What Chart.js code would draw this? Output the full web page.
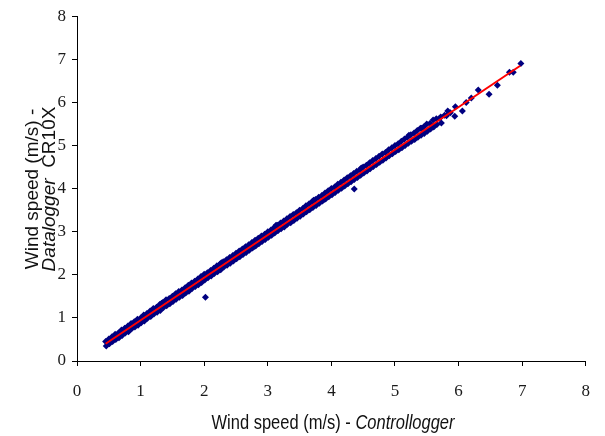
<!DOCTYPE html>
<html lang="en">
<head>
    <meta charset="UTF-8">
    <title>Wind speed comparison</title>
    <script src="https://cdn.jsdelivr.net/npm/chart.js"></script>
    <style>
        html, body { margin: 0; padding: 0; background: #fff; }
        #wrap { width: 605px; height: 436px; }
    </style>
</head>
<body>
    <div id="wrap"><canvas id="windChart" width="605" height="436"></canvas></div>
    <script>
        // axis range / ticks
        const axisMin = 0;
        const axisMax = 8;

        // [controllogger, datalogger CR10X] in m/s
        const readings = [
            [0.45,0.45],[0.46,0.35],[0.50,0.51],[0.51,0.40],[0.55,0.56],[0.56,0.45],[0.60,0.62],[0.61,0.50],
            [0.65,0.65],[0.66,0.54],[0.70,0.72],[0.71,0.59],[0.75,0.76],[0.76,0.65],[0.80,0.81],[0.81,0.68],
            [0.85,0.87],[0.86,0.75],[0.90,0.91],[0.91,0.79],[0.95,0.97],[0.96,0.83],[1.00,1.00],[1.01,0.89],
            [1.05,1.07],[1.06,0.93],[1.10,1.10],[1.11,0.99],[1.15,1.16],[1.16,1.03],[1.20,1.22],[1.21,1.09],
            [1.25,1.25],[1.26,1.13],[1.30,1.31],[1.31,1.17],[1.35,1.36],[1.36,1.24],[1.40,1.42],[1.41,1.28],
            [1.45,1.45],[1.46,1.33],[1.50,1.50],[1.51,1.38],[1.55,1.56],[1.56,1.43],[1.60,1.61],[1.61,1.48],
            [1.65,1.65],[1.66,1.52],[1.70,1.70],[1.71,1.58],[1.75,1.76],[1.76,1.62],[1.80,1.81],[1.81,1.68],
            [1.85,1.85],[1.86,1.73],[1.90,1.90],[1.91,1.77],[1.95,1.96],[1.96,1.82],[2.00,2.01],[2.01,1.88],
            [2.05,2.05],[2.06,1.93],[2.10,2.10],[2.11,1.97],[2.15,2.15],[2.16,2.03],[2.20,2.21],[2.21,2.07],
            [2.25,2.25],[2.26,2.12],[2.30,2.30],[2.31,2.18],[2.35,2.35],[2.36,2.22],[2.40,2.40],[2.41,2.27],
            [2.45,2.45],[2.46,2.32],[2.50,2.50],[2.51,2.37],[2.55,2.55],[2.56,2.42],[2.60,2.60],[2.61,2.47],
            [2.65,2.65],[2.66,2.52],[2.70,2.70],[2.71,2.57],[2.75,2.75],[2.76,2.62],[2.80,2.80],[2.81,2.67],
            [2.85,2.85],[2.86,2.72],[2.90,2.90],[2.91,2.77],[2.95,2.94],[2.96,2.82],[3.00,3.00],[3.01,2.87],
            [3.05,3.04],[3.06,2.92],[3.10,3.10],[3.11,2.97],[3.15,3.15],[3.16,3.02],[3.20,3.20],[3.21,3.07],
            [3.25,3.25],[3.26,3.11],[3.30,3.30],[3.31,3.17],[3.35,3.35],[3.36,3.21],[3.40,3.40],[3.41,3.26],
            [3.45,3.44],[3.46,3.31],[3.50,3.50],[3.51,3.36],[3.55,3.54],[3.56,3.41],[3.60,3.60],[3.61,3.46],
            [3.65,3.65],[3.66,3.51],[3.70,3.70],[3.71,3.56],[3.75,3.75],[3.76,3.61],[3.80,3.80],[3.81,3.66],
            [3.85,3.84],[3.86,3.71],[3.90,3.90],[3.91,3.76],[3.95,3.95],[3.96,3.81],[4.00,4.00],[4.01,3.86],
            [4.05,4.04],[4.06,3.91],[4.10,4.10],[4.11,3.96],[4.15,4.15],[4.16,4.01],[4.20,4.20],[4.21,4.06],
            [4.25,4.25],[4.26,4.11],[4.30,4.30],[4.31,4.16],[4.35,4.35],[4.36,4.21],[4.40,4.40],[4.41,4.26],
            [4.45,4.44],[4.46,4.31],[4.50,4.50],[4.51,4.36],[4.55,4.54],[4.56,4.41],[4.60,4.60],[4.61,4.46],
            [4.65,4.65],[4.66,4.51],[4.70,4.70],[4.71,4.56],[4.75,4.75],[4.76,4.61],[4.80,4.80],[4.81,4.66],
            [4.85,4.84],[4.86,4.71],[4.90,4.90],[4.91,4.76],[4.95,4.95],[4.96,4.81],[5.00,5.00],[5.01,4.86],
            [5.05,5.04],[5.06,4.90],[5.10,5.10],[5.11,4.95],[5.15,5.15],[5.16,5.00],[5.20,5.20],[5.21,5.05],
            [5.25,5.25],[5.26,5.10],[5.30,5.29],[5.31,5.14],[5.35,5.35],[5.36,5.19],[5.40,5.40],[5.41,5.24],
            [5.45,5.43],[5.46,5.28],[5.50,5.50],[5.51,5.33],[5.55,5.51],[5.56,5.38],[5.60,5.59],[5.61,5.43],
            [5.65,5.62],[5.66,5.49],
            [1.33,1.34],[1.72,1.61],[2.27,2.28],[2.78,2.65],[3.13,3.15],[3.72,3.73],[3.88,3.74],[4.47,4.48],
            [5.22,5.24],[5.42,5.40],
            [5.70,5.63],[5.72,5.66],[5.73,5.52],[5.78,5.70],[5.81,5.69],[5.83,5.80],[5.87,5.76],[5.94,5.68],
            [5.95,5.90],[6.06,5.80],[6.12,6.00],[6.20,6.10],[6.31,6.29],[6.48,6.19],[6.61,6.40],[6.80,6.70],
            [6.86,6.70],[6.98,6.90]
        ];

        // odd points off the band
        const outliers = [[2.02,1.48],[4.36,3.99]];

        // ends of the fitted line
        const fitEnds = [[0.45,0.40],[6.97,6.85]];

        const xTitleMain = 'Wind speed (m/s) - ';
        const xTitleItalic = 'Controllogger';
        const yTitleLine1 = 'Wind speed (m/s) -';
        const yTitleItalic = 'Datalogger';
        const yTitleRest = '  CR10X';

        const toPts = arr => arr.map(p => ({ x: p[0], y: p[1] }));

        // axis titles with the italic parts, drawn by hand
        const axisTitles = {
            id: 'axisTitles',
            afterDraw(chart) {
                const c = chart.ctx;
                const normal = '16.5px "Liberation Sans", Arial, sans-serif';
                const italic = 'italic 16.5px "Liberation Sans", Arial, sans-serif';
                c.save();
                c.fillStyle = '#111';
                c.textBaseline = 'alphabetic';
                c.textAlign = 'left';
                c.font = normal;
                const wA = c.measureText(xTitleMain).width;
                c.font = italic;
                const wB = c.measureText(xTitleItalic).width;
                c.translate(333 - (wA + wB) / 2, 429);
                c.scale(1, 1.2);
                c.font = normal;
                c.fillText(xTitleMain, 0, 0);
                c.font = italic;
                c.fillText(xTitleItalic, wA, 0);
                c.restore();

                c.save();
                c.fillStyle = '#111';
                c.textBaseline = 'alphabetic';
                c.translate(38, 189);
                c.rotate(-Math.PI / 2);
                const n = '19px "Liberation Sans", Arial, sans-serif';
                const i = 'italic 19px "Liberation Sans", Arial, sans-serif';
                c.font = n;
                c.textAlign = 'center';
                c.fillText(yTitleLine1, 0, 0);
                c.textAlign = 'left';
                c.font = i;
                const w1 = c.measureText(yTitleItalic).width;
                c.font = n;
                const w2 = c.measureText(yTitleRest).width;
                const sx = -(w1 + w2) / 2;
                c.font = i;
                c.fillText(yTitleItalic, sx, 17);
                c.font = n;
                c.fillText(yTitleRest, sx + w1, 17);
                c.restore();
            }
        };

        const tickFont = { family: '"Liberation Serif", "Times New Roman", serif', size: 17 };

        new Chart(document.getElementById('windChart'), {
            type: 'scatter',
            data: {
                datasets: [
                    {
                        type: 'line',
                        data: toPts(fitEnds),
                        borderColor: '#ff0000',
                        borderWidth: 2,
                        pointRadius: 0,
                        fill: false,
                        order: 0
                    },
                    {
                        data: toPts(readings.concat(outliers)),
                        pointStyle: 'rectRot',
                        pointRadius: 3.5,
                        backgroundColor: '#000080',
                        borderColor: '#000080',
                        borderWidth: 0,
                        order: 1
                    }
                ]
            },
            options: {
                responsive: false,
                animation: false,
                layout: { padding: { top: 16, right: 16, left: 0, bottom: 0 } },
                plugins: { legend: { display: false }, tooltip: { enabled: false } },
                scales: {
                    x: {
                        type: 'linear',
                        min: axisMin,
                        max: axisMax,
                        afterFit: s => { s.height = 75; },
                        border: { color: '#000', width: 1 },
                        grid: { display: true, drawOnChartArea: false, drawTicks: true, tickLength: 5, color: '#000' },
                        ticks: { stepSize: 1, color: '#1a1a1a', font: tickFont, padding: 15, maxRotation: 0 }
                    },
                    y: {
                        type: 'linear',
                        min: axisMin,
                        max: axisMax,
                        afterFit: s => { s.width = 77; },
                        border: { color: '#000', width: 1 },
                        grid: { display: true, drawOnChartArea: false, drawTicks: true, tickLength: 5, color: '#000' },
                        ticks: { stepSize: 1, color: '#1a1a1a', font: tickFont, padding: 6 }
                    }
                }
            },
            plugins: [axisTitles]
        });
    </script>
</body>
</html>
